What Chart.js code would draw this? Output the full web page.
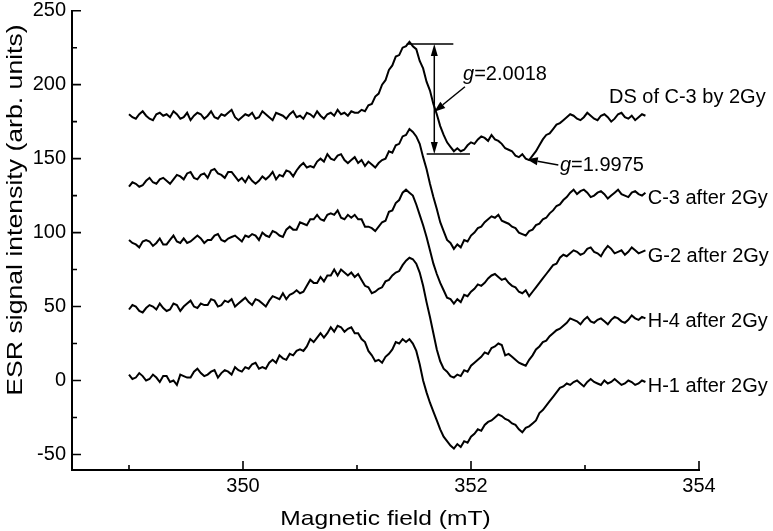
<!DOCTYPE html>
<html><head><meta charset="utf-8">
<script src="https://cdn.jsdelivr.net/npm/chart.js@4/dist/chart.umd.min.js"></script>
<style>html,body{margin:0;padding:0;background:#fff}</style>
</head><body>
<canvas id="c" width="773" height="531"></canvas>
<script>
// ---- data ----
const field = [349.00,349.03,349.06,349.09,349.12,349.15,349.18,349.21,349.24,349.27,
349.30,349.33,349.36,349.39,349.42,349.45,349.48,349.51,349.54,349.57,
349.60,349.63,349.66,349.69,349.72,349.75,349.78,349.81,349.84,349.87,
349.90,349.93,349.96,349.99,350.02,350.05,350.08,350.11,350.14,350.17,
350.20,350.23,350.26,350.29,350.32,350.35,350.38,350.41,350.44,350.47,
350.50,350.53,350.56,350.59,350.62,350.65,350.68,350.71,350.74,350.77,
350.80,350.83,350.86,350.89,350.92,350.95,350.98,351.01,351.04,351.07,
351.10,351.13,351.16,351.19,351.22,351.25,351.28,351.31,351.34,351.37,
351.40,351.43,351.46,351.49,351.52,351.55,351.58,351.61,351.64,351.67,
351.70,351.73,351.76,351.79,351.82,351.85,351.88,351.91,351.94,351.97,
352.00,352.03,352.06,352.09,352.12,352.15,352.18,352.21,352.24,352.27,
352.30,352.33,352.36,352.39,352.42,352.45,352.48,352.51,352.54,352.57,
352.60,352.63,352.66,352.69,352.72,352.75,352.78,352.81,352.84,352.87,
352.90,352.93,352.96,352.99,353.02,353.05,353.08,353.11,353.14,353.17,
353.20,353.23,353.26,353.29,353.32,353.35,353.38,353.41,353.44,353.47,
353.50,353.53];

const dsC3 = [180,178,177,180,182,179,177,176,180,181,
179,180,178,182,180,177,178,181,176,179,
181,180,177,179,182,178,177,180,179,181,
183,178,176,178,180,179,181,177,178,182,
180,178,176,181,180,179,177,180,182,178,
179,177,181,180,178,182,179,177,180,181,
179,183,180,181,179,182,181,181,183,182,
186,187,192,194,200,203,210,213,219,220,
225,226,229,226,224,216,211,202,196,187,
180,172,166,161,158,155,157,155,156,159,
161,160,163,165,164,162,166,163,162,160,
157,156,155,152,151,153,150,149,152,155,
159,163,166,167,170,173,174,176,178,180,
179,177,176,178,181,179,177,176,179,180,
178,175,177,180,181,178,177,179,176,178,
180,179];

const c3After = [131,134,133,131,132,135,137,134,133,136,
137,135,133,136,139,138,136,140,141,137,
136,139,140,137,142,143,140,139,137,141,
141,138,135,137,134,138,135,133,135,138,
136,138,141,136,139,138,142,141,138,142,
145,147,144,145,144,148,150,148,153,150,
149,152,153,149,147,149,151,147,149,145,
148,146,144,147,149,150,155,154,159,160,
165,166,170,168,165,160,151,143,133,124,
116,107,101,95,93,89,92,90,95,94,
98,100,103,104,107,109,111,110,112,108,
107,106,104,103,100,99,98,101,102,105,
106,109,110,113,115,118,119,122,124,127,
129,126,128,129,127,124,125,127,128,126,
123,125,127,129,126,125,124,127,128,126,
125,127];

const g2After = [95,93,92,90,94,95,94,91,93,96,
92,92,95,98,94,93,96,93,94,96,
98,96,93,95,95,98,99,95,94,96,
97,98,96,94,98,97,99,98,95,100,
98,97,101,100,98,97,102,104,102,102,
107,106,105,109,109,112,109,108,112,113,
112,115,110,109,112,110,112,109,109,104,
104,103,101,104,107,108,114,115,120,122,
127,129,127,125,119,112,105,97,88,79,
72,66,61,56,55,52,55,53,58,57,
60,62,65,64,66,69,71,72,70,68,
69,66,64,63,60,59,61,57,60,63,
66,69,72,75,78,79,83,85,84,86,
88,87,85,86,89,90,87,86,84,88,
91,89,86,87,88,85,87,90,88,86,
87,88];

const h4After = [48,51,50,47,46,49,51,50,48,52,
49,47,48,52,51,47,50,52,54,50,
49,52,51,51,55,54,50,51,54,53,
55,50,52,54,56,53,51,55,54,52,
50,54,57,56,55,59,55,58,59,61,
59,60,64,68,66,66,70,67,71,71,
75,71,75,73,71,73,70,72,68,64,
63,59,60,62,63,67,68,71,73,74,
78,81,83,82,79,73,64,53,43,32,
21,13,8,6,3,2,4,3,7,6,
10,12,14,16,19,18,22,23,25,24,
17,18,16,14,12,11,10,14,17,21,
23,26,27,30,32,34,35,37,39,42,
41,40,38,41,43,40,39,41,42,40,
38,41,43,42,40,39,41,44,42,41,
43,42];

const h1After = [4,1,2,5,3,0,1,4,2,-1,
3,3,-1,0,-3,4,3,2,2,6,
8,5,3,4,6,7,2,5,7,6,
4,9,7,6,9,8,11,12,8,9,
8,12,14,12,17,15,14,18,17,20,
21,20,23,28,26,29,32,29,32,36,
33,37,36,33,35,36,32,32,28,26,
20,17,13,14,12,16,18,21,26,25,
28,26,28,25,20,11,0,-8,-15,-21,
-27,-33,-38,-41,-44,-46,-43,-45,-41,-42,
-38,-36,-33,-34,-30,-28,-27,-25,-23,-24,
-26,-27,-29,-30,-33,-35,-32,-31,-29,-27,
-22,-20,-17,-14,-11,-8,-5,-4,-2,-3,
-1,0,-2,-4,-1,1,-1,-2,-3,0,
-2,-1,1,-1,-3,-2,0,-1,-3,-2,
0,-1];

const seriesNames = ['DS of C-3 by 2Gy','C-3 after 2Gy','G-2 after 2Gy','H-4 after 2Gy','H-1 after 2Gy'];
const seriesValues = [dsC3, c3After, g2After, h4After, h1After];
const xTicks = [350, 352, 354];
const xMinorTicks = [349, 351, 353];
const yTicks = [-50, 0, 50, 100, 150, 200, 250];
const yMinorTicks = [-25, 25, 75, 125, 175, 225];
const xTitle = 'Magnetic field (mT)';
const yTitle = 'ESR signal intensity (arb. units)';
const gLabelA = '=2.0018';
const gLabelB = '=1.9975';

// ---- annotation placement (data coordinates) ----
const seriesLabelPos = [[353.21, 187.6], [353.55, 119.3], [353.55, 80.1], [353.55, 36.2], [353.55, -7.8]];
const gTextA = [351.93, 203.2], gTextB = [352.78, 141.6];
const gArrowA = [351.947, 198.6, 351.678, 181.7];
const gArrowB = [352.766, 145.7, 352.489, 149.5];
const markTop = [351.436, 351.845, 227.5];
const markBottom = [351.611, 351.991, 153.1];
const markX = 351.678;

const FONT = "'Liberation Sans', Arial, Helvetica, sans-serif";

function arrow(ctx, x1, y1, x2, y2, head, half) {
  const ang = Math.atan2(y2 - y1, x2 - x1);
  const bx = x2 - head * Math.cos(ang), by = y2 - head * Math.sin(ang);
  ctx.beginPath(); ctx.moveTo(x1, y1); ctx.lineTo(bx, by); ctx.stroke();
  ctx.beginPath(); ctx.moveTo(x2, y2);
  ctx.lineTo(bx + half * Math.sin(ang), by - half * Math.cos(ang));
  ctx.lineTo(bx - half * Math.sin(ang), by + half * Math.cos(ang));
  ctx.closePath(); ctx.fill();
}

const decor = {
  id: 'decor',
  afterDraw(chart) {
    const {ctx, chartArea: a, scales: {x, y}} = chart;
    const X = v => x.getPixelForValue(v), Y = v => y.getPixelForValue(v);
    ctx.save();
    ctx.strokeStyle = '#000'; ctx.fillStyle = '#000';
    // inward tick marks
    ctx.lineWidth = 1.6;
    ctx.beginPath();
    xTicks.forEach(v => { ctx.moveTo(X(v), a.bottom); ctx.lineTo(X(v), a.bottom - 9); });
    xMinorTicks.forEach(v => { ctx.moveTo(X(v), a.bottom); ctx.lineTo(X(v), a.bottom - 5); });
    yTicks.forEach(v => { ctx.moveTo(a.left, Y(v)); ctx.lineTo(a.left + 9, Y(v)); });
    yMinorTicks.forEach(v => { ctx.moveTo(a.left, Y(v)); ctx.lineTo(a.left + 5, Y(v)); });
    ctx.stroke();

    // axis titles
    ctx.font = '22px ' + FONT;
    ctx.save();
    ctx.translate(16, 210); ctx.rotate(-Math.PI / 2); ctx.scale(1.21, 1);
    ctx.textAlign = 'center'; ctx.textBaseline = 'middle';
    ctx.fillText(yTitle, 0, 0);
    ctx.restore();
    ctx.font = '21px ' + FONT;
    ctx.save();
    ctx.translate((a.left + a.right) / 2, 525); ctx.scale(1.17, 1);
    ctx.textAlign = 'center'; ctx.textBaseline = 'alphabetic';
    ctx.fillText(xTitle, 0, 0);
    ctx.restore();

    // series labels
    ctx.font = '20px ' + FONT;
    ctx.textAlign = 'left'; ctx.textBaseline = 'alphabetic';
    seriesNames.forEach((n, i) => ctx.fillText(n, X(seriesLabelPos[i][0]), Y(seriesLabelPos[i][1])));

    // g-value labels
    [[gTextA, gLabelA], [gTextB, gLabelB]].forEach(([p, t]) => {
      ctx.font = 'italic 20px ' + FONT;
      ctx.fillText('g', X(p[0]), Y(p[1]));
      const w = ctx.measureText('g').width;
      ctx.font = '20px ' + FONT;
      ctx.fillText(t, X(p[0]) + w, Y(p[1]));
    });

    // peak-to-peak marker
    ctx.lineWidth = 1.5;
    ctx.beginPath();
    ctx.moveTo(X(markTop[0]), Y(markTop[2])); ctx.lineTo(X(markTop[1]), Y(markTop[2]));
    ctx.moveTo(X(markBottom[0]), Y(markBottom[2])); ctx.lineTo(X(markBottom[1]), Y(markBottom[2]));
    ctx.stroke();
    const mid = (Y(markTop[2]) + Y(markBottom[2])) / 2;
    arrow(ctx, X(markX), mid, X(markX), Y(markTop[2]), 12, 3.5);
    arrow(ctx, X(markX), mid, X(markX), Y(markBottom[2]), 12, 3.5);
    // g arrows
    arrow(ctx, X(gArrowA[0]), Y(gArrowA[1]), X(gArrowA[2]), Y(gArrowA[3]), 11, 4);
    arrow(ctx, X(gArrowB[0]), Y(gArrowB[1]), X(gArrowB[2]), Y(gArrowB[3]), 11, 4);
    ctx.restore();
  }
};

new Chart(document.getElementById('c'), {
  type: 'line',
  data: {
    datasets: seriesValues.map((vals, i) => ({
      label: seriesNames[i],
      data: field.map((f, j) => ({x: f, y: vals[j]})),
      borderColor: '#000', borderWidth: 2, pointRadius: 0, tension: 0, fill: false
    }))
  },
  options: {
    responsive: false, animation: false, devicePixelRatio: 1,
    layout: {padding: {left: 0, right: 74, top: 10.7, bottom: 0}},
    plugins: {legend: {display: false}, tooltip: {enabled: false}},
    scales: {
      x: {
        type: 'linear', min: 348.5, max: 354,
        afterBuildTicks: s => { s.ticks = xTicks.map(v => ({value: v})); },
        afterFit: s => { s.height = 61; s.paddingLeft = 0; s.paddingRight = 0; s.paddingTop = 0; s.paddingBottom = 0; },
        grid: {display: false, drawTicks: false, tickLength: 0},
        border: {display: true, color: '#000', width: 2},
        ticks: {color: '#000', font: {family: FONT, size: 20}, padding: 4, maxRotation: 0, autoSkip: false}
      },
      y: {
        type: 'linear', min: -60.5, max: 250,
        afterBuildTicks: s => { s.ticks = yTicks.map(v => ({value: v})); },
        afterFit: s => { s.width = 72; s.paddingLeft = 0; s.paddingRight = 0; s.paddingTop = 0; s.paddingBottom = 0; },
        grid: {display: false, drawTicks: false, tickLength: 0},
        border: {display: true, color: '#000', width: 2},
        ticks: {color: '#000', font: {family: FONT, size: 20}, padding: 6, autoSkip: false}
      }
    }
  },
  plugins: [decor]
});
</script>
</body></html>
